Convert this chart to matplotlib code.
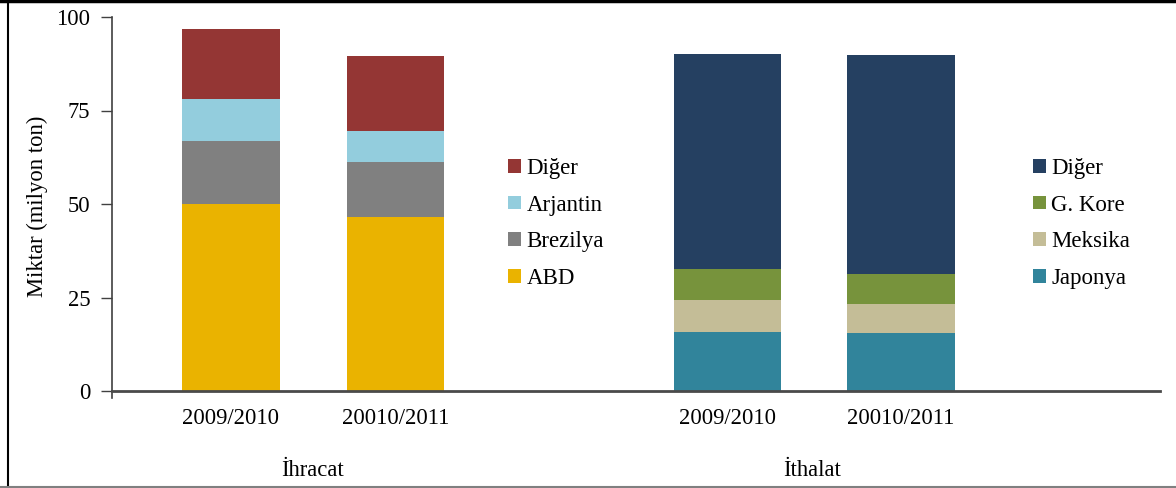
import matplotlib
matplotlib.use("Agg")
import matplotlib.pyplot as plt
from matplotlib.patches import Patch
from matplotlib.lines import Line2D
import numpy as np

plt.rcParams['font.family'] = ['Liberation Serif', 'DejaVu Serif']

# ---- data ----
seasons = ["2009/2010", "20010/2011"]
groups = ["İhracat", "İthalat"]

exp_labels = ["ABD", "Brezilya", "Arjantin", "Diğer"]
exp_values = {
    "ABD":      [50.1, 46.5],
    "Brezilya": [16.7, 14.7],
    "Arjantin": [11.3, 8.3],
    "Diğer":    [18.7, 20.0],
}
imp_labels = ["Japonya", "Meksika", "G. Kore", "Diğer"]
imp_values = {
    "Japonya": [15.9, 15.4],
    "Meksika": [8.3, 7.9],
    "G. Kore": [8.3, 8.0],
    "Diğer":   [57.7, 58.5],
}
y_ticks = [0, 25, 50, 75, 100]

exp_colors = {"ABD": "#EAB300", "Brezilya": "#808080", "Arjantin": "#93CDDD", "Diğer": "#943634"}
imp_colors = {"Japonya": "#31849B", "Meksika": "#C4BD97", "G. Kore": "#77933C", "Diğer": "#254061"}

# ---- layout ----
W, H = 1176, 488
fig = plt.figure(figsize=(W / 100, H / 100), dpi=100)
ax = fig.add_axes([112 / W, (H - 391) / H, (1160 - 112) / W, (391 - 17) / H])

exp_pos = np.array([1.19, 2.84])
imp_pos = np.array([6.16, 7.89])
exp_w, imp_w = 0.97, 1.07

bottom = np.zeros(2)
for lab in exp_labels:
    v = np.array(exp_values[lab])
    ax.bar(exp_pos, v, width=exp_w, bottom=bottom, color=exp_colors[lab], linewidth=0)
    bottom += v
bottom = np.zeros(2)
for lab in imp_labels:
    v = np.array(imp_values[lab])
    ax.bar(imp_pos, v, width=imp_w, bottom=bottom, color=imp_colors[lab], linewidth=0)
    bottom += v

ax.set_xlim(0, 10.48)
ax.set_ylim(0, 100)
ax.set_yticks(y_ticks)
ax.set_yticklabels([str(t) for t in y_ticks], fontsize=16.3)
ax.tick_params(axis='y', direction='out', length=8, width=1, color='#404040', pad=7.5)
ax.set_xticks(np.concatenate([exp_pos, imp_pos]))
ax.set_xticklabels(seasons + seasons, fontsize=16.3)
ax.tick_params(axis='x', length=0, pad=12)
for s in ['top', 'right']:
    ax.spines[s].set_visible(False)
ax.spines['left'].set_color('#404040')
ax.spines['left'].set_linewidth(1.2)
ax.spines['bottom'].set_color('#4a4a4a')
ax.spines['bottom'].set_linewidth(2)
# small downward tick at the axis origin
ax.plot([0, 0], [0, -1.8], color='#404040', lw=1.2, clip_on=False)

fig.text(37 / W, 1 - 206 / H, "Miktar (milyon ton)", rotation=90, ha='center', va='center', fontsize=16.3)
fig.text(313 / W, 1 - 470 / H, groups[0], ha='center', va='center', fontsize=16.3)
fig.text(812 / W, 1 - 470 / H, groups[1], ha='center', va='center', fontsize=16.3)

# legends
def make_legend(labels, colors, x_px):
    handles = [Patch(facecolor=colors[l], edgecolor='none') for l in reversed(labels)]
    leg = fig.legend(handles, list(reversed(labels)), loc='center left',
                     bbox_to_anchor=(x_px / W, 1 - 223.5 / H), frameon=False, fontsize=16.5,
                     handlelength=0.55, handleheight=0.55, handletextpad=0.25,
                     labelspacing=0.69, borderpad=0, borderaxespad=0)
    return leg

make_legend(exp_labels, exp_colors, 508)
make_legend(imp_labels, imp_colors, 1033)

# frame lines
fig.add_artist(Line2D([0, 1], [1 - 1 / H, 1 - 1 / H], transform=fig.transFigure, color='black', lw=2.5))
fig.add_artist(Line2D([7.5 / W, 7.5 / W], [0, 1], transform=fig.transFigure, color='black', lw=1.5))
fig.add_artist(Line2D([0, 1], [1 / H, 1 / H], transform=fig.transFigure, color='#808080', lw=1.5))

fig.savefig("out.png", dpi=100)
